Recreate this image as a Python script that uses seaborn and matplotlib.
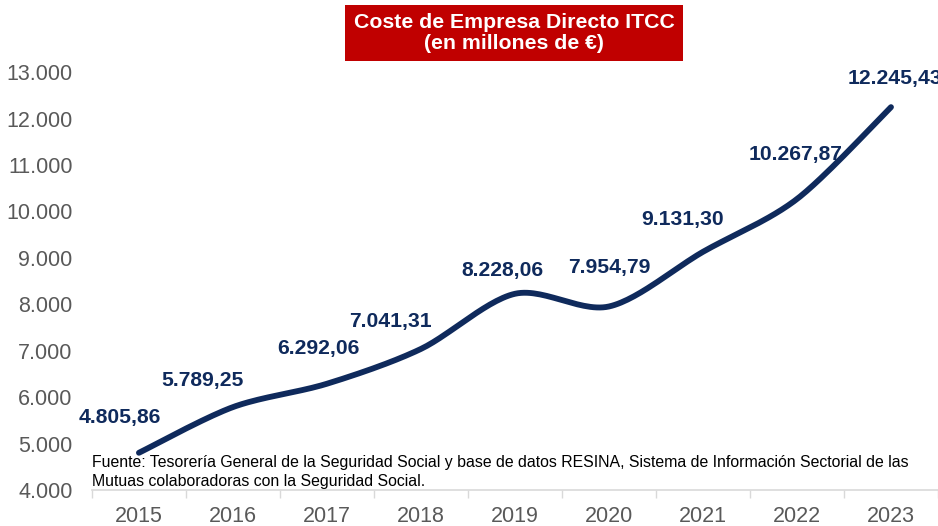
import numpy as np
import pandas as pd
import matplotlib
matplotlib.use("Agg")
import matplotlib.pyplot as plt
import seaborn as sns

years = ["2015", "2016", "2017", "2018", "2019", "2020", "2021", "2022", "2023"]
coste = [4805.86, 5789.25, 6292.06, 7041.31, 8228.06, 7954.79, 9131.30, 10267.87, 12245.43]
etiquetas = ["4.805,86", "5.789,25", "6.292,06", "7.041,31", "8.228,06",
             "7.954,79", "9.131,30", "10.267,87", "12.245,43"]
y_ticks = [4000, 5000, 6000, 7000, 8000, 9000, 10000, 11000, 12000, 13000]
# label offsets in pixels (dx, dy) relative to each point
offsets = [(-19, 35), (-30, 27), (-9, 35), (-31, 27), (-13, 23),
           (0, 39), (-20, 32), (-1, 45), (4, 29)]

NAVY = "#0f2a5c"
GREY = "#595959"


def smooth(x, y, steps=30):
    # Catmull-Rom spline like the Excel "smoothed line"
    x = np.asarray(x, float)
    y = np.asarray(y, float)
    px = np.concatenate([[x[0]], x, [x[-1]]])
    py = np.concatenate([[y[0]], y, [y[-1]]])
    xs, ys = [], []
    t = np.linspace(0, 1, steps)
    for i in range(1, len(px) - 2):
        p0, p1, p2, p3 = (np.array([px[j], py[j]]) for j in range(i - 1, i + 3))
        m1 = (p2 - p0) / 2 * 0.9
        m2 = (p3 - p1) / 2 * 0.9
        h00 = 2 * t**3 - 3 * t**2 + 1
        h10 = t**3 - 2 * t**2 + t
        h01 = -2 * t**3 + 3 * t**2
        h11 = t**3 - t**2
        pts = (np.outer(h00, p1) + np.outer(h10, m1) + np.outer(h01, p2) + np.outer(h11, m2))
        xs.extend(pts[:, 0])
        ys.extend(pts[:, 1])
    return np.array(xs), np.array(ys)


sns.set_style("white")
plt.rcParams["font.family"] = ["Liberation Sans", "DejaVu Sans"]

fig = plt.figure(figsize=(9.38, 5.26), dpi=100)
ax = fig.add_axes([0.098, 0.068, 0.902, 0.795])

xpos = np.arange(len(years))
sx, sy = smooth(xpos, coste)
curve = pd.DataFrame({"x": sx, "y": sy})
sns.lineplot(data=curve, x="x", y="y", ax=ax, color=NAVY, linewidth=4.2,
             sort=False, estimator=None, solid_capstyle="round")

for x, v, lab, (dx, dy) in zip(xpos, coste, etiquetas, offsets):
    ax.annotate(lab, (x, v), xytext=(dx, dy), textcoords="offset pixels",
                ha="center", va="center", fontsize=15.2, fontweight="bold",
                color=NAVY, annotation_clip=False, clip_on=False)

ax.set_xlim(-0.5, len(years) - 0.5)
ax.set_ylim(4000, 13000)
ax.set_yticks(y_ticks)
ax.set_yticklabels([f"{v:,}".replace(",", ".") for v in y_ticks])
ax.set_xticks(xpos)
ax.set_xticklabels(years)
ax.set_xticks(np.arange(-0.5, len(years), 1), minor=True)
ax.tick_params(axis="y", length=0, pad=14, labelsize=15.5, labelcolor=GREY)
ax.tick_params(axis="x", which="major", length=0, pad=11, labelsize=15.5, labelcolor=GREY)
ax.tick_params(axis="x", which="minor", length=6, color="#d9d9d9", width=1, bottom=True)
ax.set_xlabel("")
ax.set_ylabel("")
for s in ["top", "right", "left"]:
    ax.spines[s].set_visible(False)
ax.spines["bottom"].set_color("#d9d9d9")
ax.spines["bottom"].set_linewidth(1.2)

ax.text(-0.5, 4020, "Fuente: Tesorería General de la Seguridad Social y base de datos RESINA, "
        "Sistema de Información Sectorial de las\nMutuas colaboradoras con la Seguridad Social.",
        fontsize=11.4, color="black", ha="left", va="bottom", linespacing=1.35)

fig.text(0.548, 0.937, "Coste de Empresa Directo ITCC\n(en millones de €)",
         ha="center", va="center", fontsize=15.3, fontweight="bold", color="white",
         linespacing=1.1,
         bbox=dict(boxstyle="square,pad=0.4", facecolor="#c00000", edgecolor="none"))

fig.savefig("out.png", dpi=100)
